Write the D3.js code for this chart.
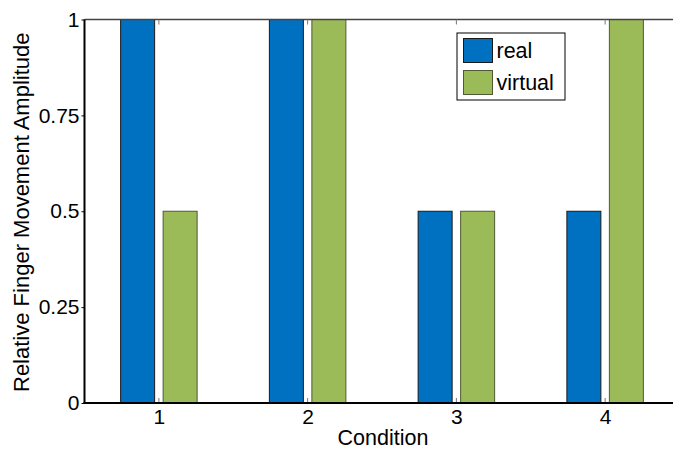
<!DOCTYPE html>
<html>
<head>
<meta charset="utf-8">
<script src="https://cdn.jsdelivr.net/npm/d3@7"></script>
<style>
  body { margin: 0; background: #fff; }
  svg { display: block; font-family: "Liberation Sans", Arial, sans-serif; }
</style>
</head>
<body>
<div id="chart"></div>
<script>
const conditions = [1, 2, 3, 4];
const realValues = [1, 1, 0.5, 0.5];
const virtualValues = [0.5, 1, 0.5, 1];
const yTicks = [0, 0.25, 0.5, 0.75, 1];
const yTickLabels = ['0', '0.25', '0.5', '0.75', '1'];
const seriesNames = ['real', 'virtual'];
const seriesColors = ['#0070c0', '#9bbb59'];
const seriesStrokes = ['#1a1a1a', '#4f5a36'];

const width = 673, height = 449;
const plotLeft = 84.5, plotRight = 679.5, plotTop = 19.5, plotBottom = 403;

const svg = d3.select('#chart')
    .append('svg')
    .attr('width', width)
    .attr('height', height);

const xScale = d3.scaleLinear().domain([0.5, 4.5]).range([plotLeft, plotRight]);
const yScale = d3.scaleLinear().domain([0, 1]).range([plotBottom, plotTop]);

// grouped bars, matlab style: offsets of +-1/7, width 0.8 of the slot
const offset = 1 / 7, barW = 0.8 * 2 / 7;
const series = [realValues, virtualValues];

series.forEach((vals, s) => {
    svg.append('g')
        .selectAll('rect')
        .data(conditions.map((c, i) => ({ c: c, v: vals[i] })))
        .enter()
        .append('rect')
        .attr('x', d => xScale(d.c + (s === 0 ? -offset : offset) - barW / 2))
        .attr('y', d => yScale(d.v))
        .attr('width', d => xScale(barW) - xScale(0))
        .attr('height', d => yScale(0) - yScale(d.v))
        .attr('fill', seriesColors[s])
        .attr('stroke', seriesStrokes[s])
        .attr('stroke-width', 1);
});

// top border
svg.append('line')
    .attr('x1', plotLeft).attr('x2', plotRight)
    .attr('y1', plotTop).attr('y2', plotTop)
    .attr('stroke', '#444').attr('stroke-width', 1.5);

// x ticks (inside, bottom and top)
const xTickG = svg.append('g');
conditions.forEach(c => {
    xTickG.append('line')
        .attr('x1', xScale(c)).attr('x2', xScale(c))
        .attr('y1', plotBottom).attr('y2', plotBottom - 5)
        .attr('stroke', '#777').attr('stroke-width', 1);
    xTickG.append('line')
        .attr('x1', xScale(c)).attr('x2', xScale(c))
        .attr('y1', plotTop).attr('y2', plotTop + 5)
        .attr('stroke', '#777').attr('stroke-width', 1);
});

const xAxis = svg.append('g')
    .attr('transform', `translate(0, ${plotBottom})`)
    .call(d3.axisBottom(xScale).tickValues(conditions).tickSize(0).tickPadding(6).tickFormat(d3.format('d')));
xAxis.select('.domain').remove();
xAxis.selectAll('text')
    .attr('font-size', 21)
    .attr('fill', '#000')
    .attr('font-family', '"Liberation Sans", Arial, sans-serif');

const yAxis = svg.append('g')
    .attr('transform', `translate(${plotLeft}, 0)`)
    .call(d3.axisLeft(yScale).tickValues(yTicks).tickSize(3).tickPadding(2)
        .tickFormat((d, i) => yTickLabels[i]));
yAxis.select('.domain').remove();
yAxis.selectAll('line').attr('stroke', '#000');
yAxis.selectAll('text')
    .attr('font-size', 21)
    .attr('fill', '#000')
    .attr('font-family', '"Liberation Sans", Arial, sans-serif');

// left and bottom axis lines
svg.append('line')
    .attr('x1', plotLeft).attr('x2', plotLeft)
    .attr('y1', plotTop).attr('y2', plotBottom)
    .attr('stroke', '#000').attr('stroke-width', 2);
svg.append('line')
    .attr('x1', plotLeft - 1).attr('x2', plotRight)
    .attr('y1', plotBottom).attr('y2', plotBottom)
    .attr('stroke', '#000').attr('stroke-width', 2);

// axis titles
svg.append('text')
    .attr('x', 383)
    .attr('y', 445)
    .attr('text-anchor', 'middle')
    .attr('font-size', 21.5)
    .text('Condition');

svg.append('text')
    .attr('transform', `translate(29, ${(plotTop + plotBottom) / 2 + 1}) rotate(-90)`)
    .attr('text-anchor', 'middle')
    .attr('font-size', 22)
    .text('Relative Finger Movement Amplitude');

// legend
const legend = svg.append('g').attr('transform', 'translate(457, 33)');
legend.append('rect')
    .attr('width', 108).attr('height', 67)
    .attr('fill', '#fff').attr('stroke', '#000').attr('stroke-width', 1);
seriesNames.forEach((name, i) => {
    legend.append('rect')
        .attr('x', 6.5).attr('y', 5.5 + i * 32)
        .attr('width', 29).attr('height', 24)
        .attr('fill', seriesColors[i])
        .attr('stroke', seriesStrokes[i]);
    legend.append('text')
        .attr('x', 39.5).attr('y', 25 + i * 32)
        .attr('font-size', 21.5)
        .text(name);
});
</script>
</body>
</html>
